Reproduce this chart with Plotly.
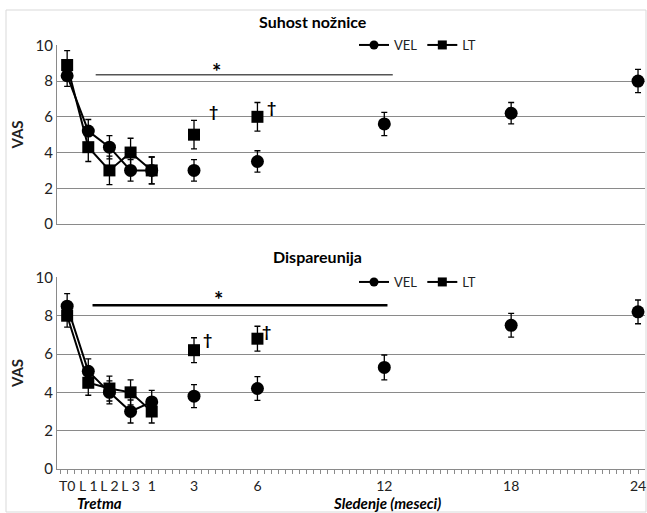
import numpy as np
import plotly.graph_objects as go
from plotly.subplots import make_subplots

# ---- data ----
tick_labels = ["T0", "L 1", "L 2", "L 3", "1", "3", "6", "12", "18", "24"]
x_pos = [-3, -2, -1, 0, 1, 3, 6, 12, 18, 24]

# Suhost nožnice
dry_vel = [8.3, 5.2, 4.3, 3.0, 3.0, 3.0, 3.5, 5.6, 6.2, 8.0]
dry_vel_err = [0.6, 0.65, 0.65, 0.6, 0.75, 0.6, 0.6, 0.65, 0.6, 0.65]
dry_lt = [8.9, 4.3, 3.0, 4.0, 3.0, 5.0, 6.0]
dry_lt_err = [0.8, 0.8, 0.8, 0.8, 0.75, 0.8, 0.8]

# Dispareunija
dys_vel = [8.5, 5.1, 4.0, 3.0, 3.5, 3.8, 4.2, 5.3, 7.5, 8.2]
dys_vel_err = [0.65, 0.65, 0.6, 0.6, 0.6, 0.6, 0.62, 0.65, 0.62, 0.62]
dys_lt = [8.0, 4.5, 4.2, 4.0, 3.0, 6.2, 6.8]
dys_lt_err = [0.6, 0.65, 0.65, 0.65, 0.6, 0.65, 0.65]

n_treat = 5  # points connected by lines (treatment phase)

W, H = 647, 513
L, R, T, B = 57, 2, 45, 44
PW, PH = W - L - R, H - T - B


def px(xp):
    return (xp - L) / PW


def py(yp):
    return (H - B - yp) / PH


top_dom = [py(224), 1.0]
bot_dom = [0.0, py(277)]

fig = make_subplots(rows=2, cols=1)
FONT = "Lato, Open Sans, sans-serif"


def add_series(row, xs, ys, errs, symbol, name, legend, size):
    n = len(ys)
    xs = xs[:n]
    common = dict(
        marker=dict(symbol=symbol, size=size, color="black"),
        line=dict(color="black", width=2),
        name=name,
        showlegend=False,
    )
    fig.add_trace(go.Scatter(
        x=xs[:n_treat], y=ys[:n_treat], mode="lines+markers",
        error_y=dict(type="data", array=errs[:n_treat], color="black", thickness=1.3, width=3),
        **common), row=row, col=1)
    fig.add_trace(go.Scatter(
        x=xs[n_treat:], y=ys[n_treat:], mode="markers",
        error_y=dict(type="data", array=errs[n_treat:], color="black", thickness=1.3, width=3),
        **common), row=row, col=1)
    # legend-only entry with a smaller marker
    fig.add_trace(go.Scatter(
        x=[None], y=[None], mode="lines+markers", name=name, legend=legend,
        marker=dict(symbol=symbol, size=9, color="black"),
        line=dict(color="black", width=2), showlegend=True), row=row, col=1)


add_series(1, x_pos, dry_lt, dry_lt_err, "square", "LT", "legend", 12)
add_series(1, x_pos, dry_vel, dry_vel_err, "circle", "VEL", "legend", 13)
add_series(2, x_pos, dys_lt, dys_lt_err, "square", "LT", "legend2", 12)
add_series(2, x_pos, dys_vel, dys_vel_err, "circle", "VEL", "legend2", 13)

GRID = "#8a8a8a"
xr = [-3.48, 24.33]
minor_vals = list(np.arange(-10, 75) / 3.0)

for r in (1, 2):
    fig.update_yaxes(
        range=[0, 10.02], tickvals=[0, 2, 4, 6, 8, 10], showgrid=True, gridcolor=GRID,
        gridwidth=1, showline=True, linecolor=GRID, linewidth=1, zeroline=False,
        ticks="", tickfont=dict(family=FONT, size=15, color="#222"),
        title=dict(text="<b>VAS</b>", font=dict(family=FONT, size=15, color="#222"), standoff=8),
        automargin=False, row=r, col=1)

fig.update_xaxes(range=xr, showgrid=False, zeroline=False, showline=True, linecolor=GRID,
                 linewidth=1, showticklabels=False, ticks="", automargin=False, row=1, col=1)
fig.update_xaxes(range=xr, showgrid=False, zeroline=False, showline=True, linecolor=GRID,
                 linewidth=1, tickvals=x_pos, ticktext=tick_labels, ticks="outside",
                 ticklen=4, tickcolor=GRID, automargin=False, tickangle=0,
                 ticklabeloverflow="allow",
                 minor=dict(tickmode="array", tickvals=minor_vals, ticks="outside",
                            ticklen=4, tickcolor=GRID),
                 tickfont=dict(family=FONT, size=14, color="#222"), row=2, col=1)

leg_common = dict(orientation="h", xanchor="left", yanchor="middle",
                  bgcolor="white", font=dict(family=FONT, size=13, color="#222"),
                  itemwidth=30, traceorder="reversed", tracegroupgap=0)

fig.update_layout(
    width=W, height=H,
    margin=dict(l=L, r=R, t=T, b=B, autoexpand=False),
    paper_bgcolor="white", plot_bgcolor="white",
    xaxis=dict(domain=[0, 1]), xaxis2=dict(domain=[0, 1]),
    yaxis=dict(domain=top_dom), yaxis2=dict(domain=bot_dom),
    legend=dict(x=px(354), y=py(45), **leg_common),
    legend2=dict(x=px(354), y=py(282), **leg_common),
)

# significance lines
fig.add_shape(type="line", x0=-1.65, x1=12.4, y0=8.35, y1=8.35, xref="x", yref="y",
              line=dict(color="#555", width=1.5))
fig.add_shape(type="line", x0=-1.8, x1=12.15, y0=8.55, y1=8.55, xref="x2", yref="y2",
              line=dict(color="black", width=2.5))

# outer light frame
fig.add_shape(type="rect", xref="paper", yref="paper", x0=px(6), x1=px(646), y0=py(10), y1=py(512),
              line=dict(color="#d9d9d9", width=1), layer="below")

annots = [
    dict(x=px(313), y=py(21), text="<b>Suhost nožnice</b>", size=16),
    dict(x=px(317), y=py(256), text="<b>Dispareunija</b>", size=16),
    dict(x=px(99), y=py(503), text="<b><i>Tretma</i></b>", size=15),
    dict(x=px(387), y=py(503), text="<b><i>Sledenje (meseci)</i></b>", size=15),
    dict(x=px(216), y=py(71), text="<b>*</b>", size=22),
    dict(x=px(219), y=py(299), text="<b>*</b>", size=22),
    dict(x=px(213), y=py(110), text="<b>†</b>", size=16),
    dict(x=px(271), y=py(106), text="<b>†</b>", size=16),
    dict(x=px(207), y=py(338), text="<b>†</b>", size=16),
    dict(x=px(266), y=py(330), text="<b>†</b>", size=16),
]
for a in annots:
    fig.add_annotation(x=a["x"], y=a["y"], xref="paper", yref="paper", text=a["text"],
                       showarrow=False, xanchor="center", yanchor="middle",
                       font=dict(family=FONT, size=a["size"], color="black"))

fig.write_html("out.html", config={"displayModeBar": False},
               post_script="document.body.style.margin='0';")
